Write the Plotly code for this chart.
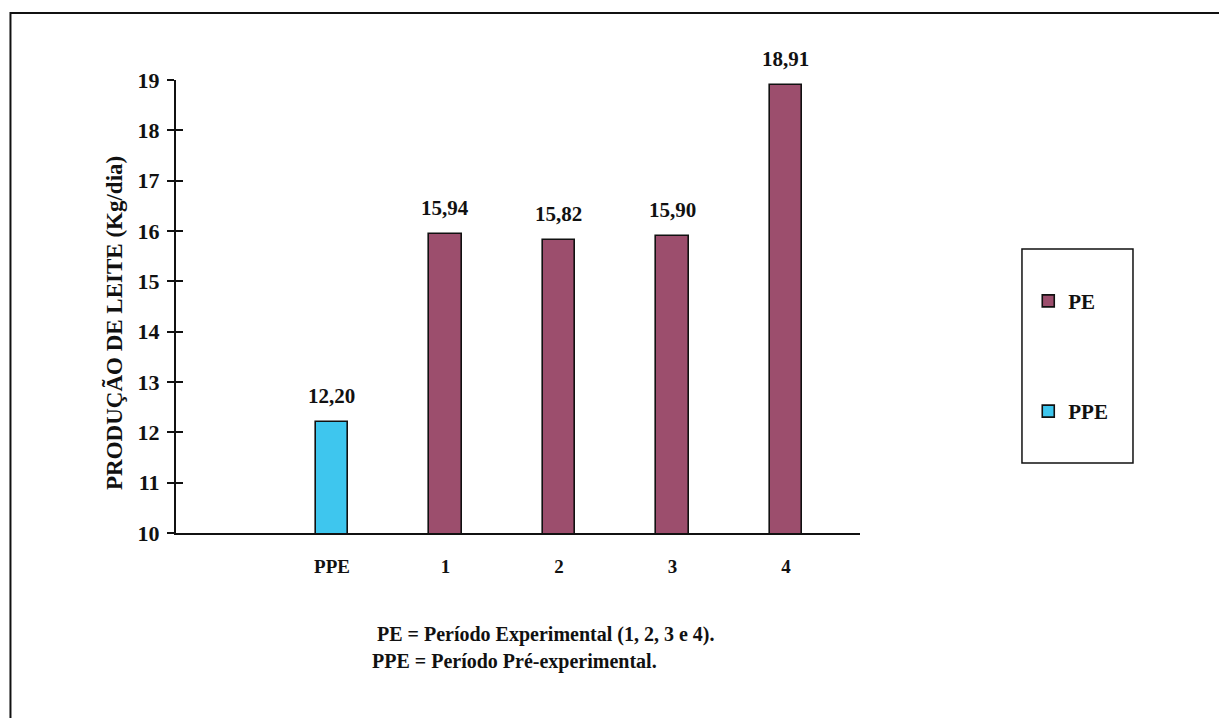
import plotly.graph_objects as go

# ---- data ----
categories = ["PPE", "1", "2", "3", "4"]
values = [12.20, 15.94, 15.82, 15.90, 18.91]
series = ["PPE", "PE", "PE", "PE", "PE"]
y_ticks = [10, 11, 12, 13, 14, 15, 16, 17, 18, 19]
y_title = "PRODUÇÃO DE LEITE (Kg/dia)"
note_lines = ["PE = Período Experimental (1, 2, 3 e 4).",
              "PPE = Período Pré-experimental."]

colors = {"PE": "#9C4E6D", "PPE": "#3EC6EE"}
FONT = "Liberation Serif, Times New Roman, serif"
INK = "#111111"

# category slot positions (slot 0 is an empty leading slot)
x_pos = [i + 1 for i in range(len(categories))]

fig = go.Figure()
for name in ["PE", "PPE"]:
    xs = [x_pos[i] for i, s in enumerate(series) if s == name]
    ys = [values[i] for i, s in enumerate(series) if s == name]
    fig.add_trace(go.Bar(
        x=xs, y=ys, name="<b>" + name + "</b>", width=0.29,
        marker=dict(color=colors[name], line=dict(color=INK, width=1.6)),
        legendgroup=name,
    ))

# value labels
for xp, v in zip(x_pos, values):
    fig.add_annotation(
        x=xp, y=v, xref="x", yref="y",
        text="<b>" + f"{v:.2f}".replace(".", ",") + "</b>",
        showarrow=False, yanchor="bottom", yshift=12,
        font=dict(family=FONT, size=21, color=INK),
    )

# y-axis title (placed as rotated text, slightly below the axis centre as in the original)
fig.add_annotation(x=-0.0892, y=0.4636, xref="paper", yref="paper",
                   text="<b>" + y_title + "</b>", textangle=-90, showarrow=False,
                   xanchor="center", yanchor="middle",
                   font=dict(family=FONT, size=23, color=INK))

# footnote
fig.add_annotation(x=0.291, y=-0.223, xref="paper", yref="paper",
                   text="<b>" + note_lines[0] + "</b>", showarrow=False,
                   xanchor="left", yanchor="middle",
                   font=dict(family=FONT, size=20, color=INK))
fig.add_annotation(x=0.2836, y=-0.2826, xref="paper", yref="paper",
                   text="<b>" + note_lines[1] + "</b>", showarrow=False,
                   xanchor="left", yanchor="middle",
                   font=dict(family=FONT, size=20, color=INK))

# outer frame and legend box
fig.add_shape(type="rect", xref="paper", yref="paper",
              x0=-0.242, x1=1.54, y0=-0.45, y1=1.148,
              line=dict(color=INK, width=2), layer="below")
fig.add_shape(type="rect", xref="paper", yref="paper",
              x0=1.2368, x1=1.3991, y0=0.1545, y1=0.6269,
              line=dict(color=INK, width=1.5))

fig.update_layout(
    width=1227, height=718,
    margin=dict(l=168, r=375, t=72, b=193),
    paper_bgcolor="white", plot_bgcolor="white",
    font=dict(family=FONT, color=INK),
    showlegend=True,
    legend=dict(
        x=1.246, y=0.557, xanchor="left", yanchor="top",
        traceorder="grouped", tracegroupgap=80,
        bgcolor="rgba(0,0,0,0)", borderwidth=0,
        font=dict(family=FONT, size=21, color=INK),
        itemwidth=30,
    ),
    bargap=0,
    xaxis=dict(
        range=[-0.374, 5.652],
        tickmode="array", tickvals=x_pos,
        ticktext=["<b>" + c + "</b>" for c in categories],
        ticks="", showgrid=False, zeroline=False,
        showline=True, linecolor=INK, linewidth=2,
        tickfont=dict(family=FONT, size=19, color=INK),
        ticklabelstandoff=15,
    ),
    yaxis=dict(
        range=[10, 19], tickmode="array", tickvals=y_ticks,
        ticktext=["<b>" + str(t) + "</b>" for t in y_ticks],
        ticks="outside", ticklen=7, tickwidth=2, tickcolor=INK,
        showgrid=False, zeroline=False,
        showline=True, linecolor=INK, linewidth=2,
        tickfont=dict(family=FONT, size=22, color=INK),
        ticklabelstandoff=3,
    ),
    yaxis2=dict(
        overlaying="y", matches="y", side="left",
        range=[10, 19], tickmode="array", tickvals=y_ticks,
        ticks="inside", ticklen=7, tickwidth=2, tickcolor=INK,
        showticklabels=False, showgrid=False, zeroline=False, showline=False,
    ),
)

# invisible trace so the overlay axis (inner tick halves) is drawn
fig.add_trace(go.Scatter(x=[None], y=[None], yaxis="y2", showlegend=False,
                         hoverinfo="skip"))

fig.write_html("out.html")
